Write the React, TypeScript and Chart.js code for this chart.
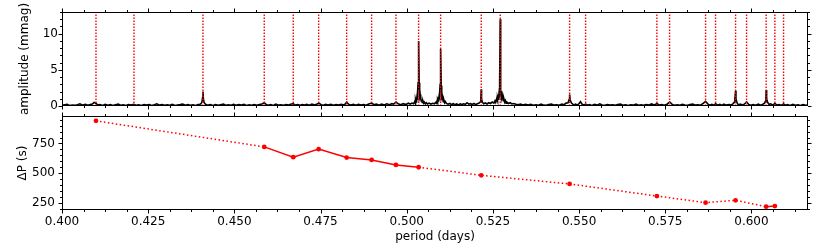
import React, { useEffect, useRef } from "react";
import { Chart, registerables } from "chart.js";
Chart.register(...registerables);

// ---- data ----
const modePeriods = [
  0.40986, 0.42088, 0.44089, 0.45867, 0.46708, 0.47445, 0.48257, 0.48982,
  0.49687, 0.50345, 0.50983, 0.52161, 0.52712, 0.54725, 0.55189, 0.57256,
  0.57625, 0.58669, 0.58959, 0.59539, 0.59858, 0.60426, 0.60679, 0.60931,
];

const dpPeriods = [
  0.40986, 0.45867, 0.46708, 0.47445, 0.48257, 0.48982, 0.49687, 0.50345,
  0.52161, 0.54725, 0.57256, 0.58669, 0.59539, 0.60426, 0.60679,
];
const dpValues = [941, 721, 634, 702, 631, 611, 569, 549, 481, 408, 306, 250, 270, 216, 221];
// style of the segment that starts at each point
const dpSegmentStyles = [
  "dotted", "solid", "solid", "solid", "solid", "solid", "solid",
  "dotted", "dotted", "dotted", "dotted", "dotted", "dotted", "solid",
];

const periodTicks = [0.4, 0.425, 0.45, 0.475, 0.5, 0.525, 0.55, 0.575, 0.6];
const ampTicks = [0, 5, 10];
const dpTicks = [250, 500, 750];

const spectrum: [number, number][] = [
  [0.4000,0.10],[0.4008,0.18],[0.4015,0.22],[0.4022,0.07],[0.4030,0.14],[0.4038,0.09],[0.4045,0.18],[0.4052,0.30],[0.4060,0.12],[0.4068,0.22],[0.4075,0.10],[0.4082,0.20],[0.4088,0.28],[0.4093,0.50],[0.4099,0.35],[0.4104,0.12],[0.4110,0.20],[0.4118,0.08],[0.4125,0.22],[0.4133,0.11],[0.4140,0.19],[0.4148,0.07],[0.4155,0.18],[0.4163,0.26],[0.4170,0.10],[0.4178,0.17],[0.4185,0.08],[0.4193,0.20],[0.4200,0.14],[0.4208,0.24],[0.4215,0.09],[0.4223,0.16],[0.4230,0.08],[0.4238,0.21],[0.4245,0.12],[0.4253,0.19],[0.4260,0.07],[0.4268,0.18],[0.4275,0.30],[0.4283,0.12],[0.4290,0.20],[0.4298,0.09],[0.4305,0.17],[0.4313,0.10],[0.4320,0.22],[0.4328,0.08],[0.4335,0.15],[0.4343,0.20],[0.4350,0.28],[0.4358,0.11],[0.4365,0.19],[0.4373,0.10],[0.4380,0.16],[0.4388,0.08],[0.4395,0.22],[0.4400,0.25],
  [0.4403,0.30],[0.4406,0.55],[0.4408,1.20],[0.4409,2.00],[0.4410,1.10],[0.4412,0.50],[0.4416,0.25],
  [0.4422,0.10],[0.4430,0.19],[0.4438,0.08],[0.4445,0.20],[0.4453,0.09],[0.4460,0.17],[0.4468,0.26],[0.4475,0.11],[0.4483,0.18],[0.4490,0.09],[0.4498,0.24],[0.4505,0.10],[0.4513,0.20],[0.4520,0.13],[0.4528,0.22],[0.4535,0.08],[0.4543,0.17],[0.4550,0.09],[0.4558,0.20],[0.4565,0.11],[0.4573,0.20],[0.4580,0.28],[0.4587,0.45],[0.4592,0.22],[0.4598,0.10],[0.4605,0.19],[0.4613,0.08],[0.4620,0.25],[0.4628,0.12],[0.4635,0.18],[0.4643,0.09],[0.4650,0.20],[0.4658,0.14],[0.4665,0.28],[0.4671,0.30],[0.4677,0.12],[0.4684,0.21],[0.4690,0.10],[0.4697,0.20],[0.4704,0.13],[0.4710,0.24],[0.4717,0.11],[0.4725,0.25],[0.4733,0.15],[0.4740,0.28],[0.4745,0.40],[0.4752,0.18],[0.4758,0.10],[0.4765,0.22],[0.4772,0.12],[0.4780,0.24],[0.4787,0.09],[0.4795,0.20],[0.4802,0.12],[0.4810,0.22],[0.4817,0.14],[0.4822,0.30],[0.4826,0.55],[0.4831,0.25],[0.4838,0.12],[0.4845,0.22],[0.4852,0.10],[0.4860,0.24],[0.4867,0.13],[0.4875,0.20],[0.4882,0.11],[0.4890,0.28],[0.4898,0.40],[0.4905,0.18],[0.4912,0.26],[0.4920,0.12],[0.4927,0.25],[0.4935,0.14],[0.4942,0.30],[0.4950,0.18],[0.4957,0.32],[0.4962,0.25],[0.4969,0.55],[0.4975,0.30],[0.4982,0.18],[0.4990,0.32],[0.4997,0.20],[0.5005,0.38],[0.5010,0.25],[0.5015,0.40],[0.5020,0.30],
  [0.5022,0.45],[0.5024,0.70],[0.5025,0.40],[0.5026,0.85],[0.5027,0.55],[0.5028,1.10],[0.5029,0.80],[0.5030,1.40],[0.5031,1.20],[0.5032,2.00],[0.5033,3.20],[0.50345,9.00],[0.5036,3.20],[0.5037,1.90],[0.5038,1.30],[0.5039,1.60],[0.5040,0.90],[0.5041,1.10],[0.5042,0.70],[0.5044,0.90],[0.5045,0.50],[0.5047,0.70],[0.5049,0.40],[0.5051,0.55],[0.5054,0.30],[0.5057,0.45],[0.5060,0.28],[0.5065,0.40],[0.5070,0.25],[0.5075,0.38],[0.5080,0.30],[0.5084,0.50],[0.5086,0.40],[0.5088,0.70],
  [0.5089,0.50],[0.5090,0.90],[0.5091,0.70],[0.5092,1.20],[0.5093,0.90],[0.5094,1.40],[0.5095,1.20],[0.5096,1.90],[0.5097,3.00],[0.50983,7.90],[0.5100,2.80],[0.5101,1.70],[0.5102,1.20],[0.5103,1.40],[0.5104,0.80],[0.5105,1.00],[0.5106,0.60],[0.5108,0.80],[0.5110,0.45],[0.5112,0.60],[0.5115,0.35],[0.5120,0.25],[0.5125,0.35],[0.5130,0.20],[0.5135,0.32],[0.5140,0.18],[0.5145,0.28],[0.5150,0.15],[0.5155,0.30],[0.5160,0.20],[0.5165,0.30],[0.5170,0.22],[0.5175,0.45],[0.5180,0.25],[0.5185,0.32],[0.5190,0.22],[0.5195,0.35],[0.5200,0.20],[0.5205,0.30],[0.5210,0.40],
  [0.5213,0.55],[0.5215,1.00],[0.52161,2.30],[0.5217,1.00],[0.5219,0.55],[0.5223,0.30],[0.5228,0.42],[0.5233,0.28],[0.5238,0.45],[0.5243,0.35],[0.5248,0.55],[0.5253,0.40],[0.5256,0.70],[0.5258,0.50],[0.5260,0.85],[0.5261,0.60],[0.5262,1.00],
  [0.5263,0.75],[0.5264,1.20],[0.5265,0.95],[0.5266,1.50],[0.5267,1.20],[0.5268,1.90],[0.5269,1.60],[0.5270,3.20],[0.52712,12.00],[0.5272,3.50],[0.5273,2.20],[0.5274,1.70],[0.5275,2.00],[0.5276,1.20],[0.5277,1.50],[0.5278,0.90],[0.5279,1.20],[0.5280,0.75],[0.5282,0.95],[0.5284,0.55],[0.5286,0.75],[0.5288,0.40],[0.5290,0.55],[0.5295,0.35],[0.5300,0.45],[0.5305,0.28],[0.5310,0.35],[0.5317,0.25],[0.5323,0.18],[0.5330,0.28],[0.5337,0.14],[0.5345,0.22],[0.5352,0.12],[0.5360,0.22],[0.5367,0.10],[0.5375,0.18],[0.5382,0.09],[0.5390,0.25],[0.5397,0.12],[0.5405,0.10],[0.5412,0.20],[0.5420,0.28],[0.5427,0.12],[0.5435,0.18],[0.5442,0.10],[0.5450,0.25],[0.5457,0.18],[0.5462,0.40],
  [0.5468,0.45],[0.5471,0.90],[0.54725,1.60],[0.5474,0.80],[0.5478,0.40],[0.5484,0.15],[0.5490,0.25],[0.5495,0.12],[0.5500,0.35],[0.5504,0.60],[0.5508,0.30],[0.5513,0.12],[0.5519,0.25],[0.5525,0.10],[0.5530,0.18],[0.5537,0.08],[0.5545,0.22],[0.5552,0.12],[0.5560,0.30],[0.5567,0.14],[0.5575,0.10],[0.5582,0.20],[0.5590,0.12],[0.5597,0.18],[0.5605,0.09],[0.5612,0.20],[0.5620,0.26],[0.5627,0.11],[0.5635,0.17],[0.5642,0.08],[0.5650,0.18],[0.5657,0.12],[0.5665,0.25],[0.5672,0.10],[0.5680,0.18],[0.5687,0.09],[0.5695,0.20],[0.5702,0.12],[0.5710,0.28],[0.5718,0.15],[0.5726,0.32],[0.5733,0.12],[0.5740,0.20],[0.5747,0.10],[0.5755,0.25],[0.5763,0.55],[0.5770,0.22],[0.5777,0.10],[0.5785,0.18],[0.5792,0.09],[0.5800,0.22],[0.5807,0.13],[0.5815,0.10],[0.5822,0.20],[0.5830,0.25],[0.5837,0.12],[0.5845,0.18],[0.5852,0.10],[0.5860,0.35],[0.5867,0.65],[0.5873,0.30],[0.5879,0.12],[0.5885,0.22],[0.5891,0.10],[0.5896,0.32],[0.5902,0.12],[0.5908,0.22],[0.5914,0.09],[0.5920,0.25],[0.5927,0.12],[0.5935,0.20],[0.5941,0.12],[0.5946,0.30],
  [0.5950,0.50],[0.5952,1.00],[0.59539,2.10],[0.5955,1.00],[0.5958,0.45],[0.5962,0.15],[0.5968,0.25],[0.5975,0.12],[0.5980,0.28],[0.5986,0.55],[0.5992,0.22],[0.5998,0.10],[0.6005,0.20],[0.6012,0.09],[0.6020,0.25],[0.6026,0.12],[0.6032,0.22],[0.6038,0.40],
  [0.6040,0.60],[0.6042,1.10],[0.60426,2.20],[0.6044,1.00],[0.6047,0.50],[0.6051,0.20],[0.6056,0.30],[0.6062,0.12],[0.6068,0.35],[0.6074,0.12],[0.6080,0.20],[0.6086,0.09],[0.6093,0.28],[0.6099,0.10],[0.6105,0.18],[0.6112,0.08],[0.6120,0.22],[0.6127,0.10],[0.6135,0.17],[0.6142,0.08],[0.6150,0.20],[0.6157,0.10],[0.6165,0.14],
];

const X_MIN = 0.4;
const X_MAX = 0.6164;
const AMP_MAX = 13;
const DP_MIN = 188;
const DP_MAX = 982;

const FONT = { family: "DejaVu Sans", size: 12 };

const setTicks = (values: number[]) => (s: any) => {
  s.ticks = values.map((v) => ({ value: v }));
};
const fixHeight = (h: number) => (s: any) => {
  s.height = h;
  s.paddingLeft = 0;
  s.paddingRight = 0;
};
const fixWidth = (w: number) => (s: any) => {
  s.width = w;
  s.paddingTop = 0;
  s.paddingBottom = 0;
};

// draws the axes frame and outward ticks (major + minor) on all four sides
const frameTicks = {
  id: "frameTicks",
  afterDatasetsDraw(chart: any, _args: any, opts: any) {
    const { ctx, chartArea } = chart;
    const { left, right, top, bottom } = chartArea;
    const xs = chart.scales.x;
    const ys = chart.scales.y;
    ctx.save();
    ctx.strokeStyle = "#000";
    ctx.lineWidth = 1;
    ctx.strokeRect(left + 0.5, top + 0.5, right - left - 1, bottom - top - 1);
    const line = (x1: number, y1: number, x2: number, y2: number) => {
      ctx.beginPath();
      ctx.moveTo(x1, y1);
      ctx.lineTo(x2, y2);
      ctx.stroke();
    };
    const majLen = 3.5, minLen = 2;
    const ticksFor = (scale: any, step: number, sub: number) => {
      const out: { v: number; major: boolean }[] = [];
      const ms = step / sub;
      const start = Math.ceil(scale.min / ms - 1e-6);
      const end = Math.floor(scale.max / ms + 1e-6);
      for (let k = start; k <= end; k++) {
        out.push({ v: k * ms, major: k % sub === 0 });
      }
      return out;
    };
    for (const t of ticksFor(xs, opts.xStep, opts.xSub)) {
      const px = Math.round(xs.getPixelForValue(t.v)) + 0.5;
      const len = t.major ? majLen : minLen;
      line(px, bottom, px, bottom + len);
      line(px, top, px, top - len);
    }
    for (const t of ticksFor(ys, opts.yStep, opts.ySub)) {
      const py = Math.round(ys.getPixelForValue(t.v)) + 0.5;
      const len = t.major ? majLen : minLen;
      line(left, py, left - len, py);
      line(right, py, right + len, py);
    }
    ctx.restore();
  },
};

function TopChart() {
  const ref = useRef<HTMLCanvasElement>(null);
  useEffect(() => {
    const modeLine: any[] = [];
    modePeriods.forEach((p) => {
      modeLine.push({ x: p, y: 0 }, { x: p, y: AMP_MAX }, { x: p, y: null });
    });
    const chart = new Chart(ref.current!, {
      type: "line",
      data: {
        datasets: [
          {
            data: modeLine,
            borderColor: "#ff0000",
            borderWidth: 1.4,
            borderDash: [1.4, 1.6],
            pointRadius: 0,
            spanGaps: false,
            order: 0,
          },
          {
            data: spectrum.map(([x, y]) => ({ x, y })),
            borderColor: "#000",
            borderWidth: 1.6,
            pointRadius: 0,
            order: 1,
          },
        ],
      },
      options: {
        responsive: false,
        animation: false,
        events: [],
        layout: { padding: { left: 0, right: 22, top: 12, bottom: 10 } },
        plugins: {
          legend: { display: false },
          tooltip: { enabled: false },
          frameTicks: { xStep: 0.025, xSub: 4, yStep: 5, ySub: 5 },
        } as any,
        scales: {
          x: {
            type: "linear",
            min: X_MIN,
            max: X_MAX,
            grid: { display: false, drawTicks: false },
            border: { display: false },
            ticks: { display: false },
            afterBuildTicks: setTicks(periodTicks),
            afterFit: fixHeight(4),
          },
          y: {
            type: "linear",
            min: 0,
            max: AMP_MAX,
            grid: { display: false, drawTicks: false },
            border: { display: false },
            afterBuildTicks: setTicks(ampTicks),
            ticks: {
              font: FONT,
              color: "#000",
              padding: 4,
            },
            title: {
              display: true,
              text: "amplitude (mmag)",
              font: FONT,
              color: "#000",
              padding: { top: 17.8, bottom: 0 },
            },
            afterFit: fixWidth(62),
          },
        },
      } as any,
      plugins: [frameTicks],
    });
    return () => chart.destroy();
  }, []);
  return (
    <canvas
      ref={ref}
      width={830}
      height={120}
      style={{ display: "block", position: "absolute", left: 0, top: 0 }}
    />
  );
}

function BottomChart() {
  const ref = useRef<HTMLCanvasElement>(null);
  useEffect(() => {
    const chart = new Chart(ref.current!, {
      type: "line",
      data: {
        datasets: [
          {
            data: dpPeriods.map((x, i) => ({ x, y: dpValues[i] })),
            borderColor: "#ff0000",
            borderWidth: 1.5,
            pointRadius: 2.4,
            pointBackgroundColor: "#ff0000",
            pointBorderWidth: 0,
            segment: {
              borderDash: (ctx: any) =>
                dpSegmentStyles[ctx.p0DataIndex] === "dotted" ? [1.5, 2.5] : [],
            },
          },
        ],
      },
      options: {
        responsive: false,
        animation: false,
        events: [],
        layout: { padding: { left: 0, right: 22, top: 6, bottom: 0 } },
        plugins: {
          legend: { display: false },
          tooltip: { enabled: false },
          frameTicks: { xStep: 0.025, xSub: 4, yStep: 250, ySub: 5 },
        } as any,
        scales: {
          x: {
            type: "linear",
            min: X_MIN,
            max: X_MAX,
            grid: { display: false, drawTicks: false },
            border: { display: false },
            afterBuildTicks: setTicks(periodTicks),
            ticks: {
              font: FONT,
              color: "#000",
              padding: 4.5,
              maxRotation: 0,
              autoSkip: false,
              callback: (v: any) => Number(v).toFixed(3),
            },
            title: {
              display: true,
              text: "period (days)",
              font: FONT,
              color: "#000",
              padding: { top: 0, bottom: 4.1 },
            },
            afterFit: fixHeight(38),
          },
          y: {
            type: "linear",
            min: DP_MIN,
            max: DP_MAX,
            grid: { display: false, drawTicks: false },
            border: { display: false },
            afterBuildTicks: setTicks(dpTicks),
            ticks: {
              font: FONT,
              color: "#000",
              padding: 7,
            },
            title: {
              display: true,
              text: "ΔP (s)",
              font: FONT,
              color: "#000",
              padding: { top: 15.8, bottom: 0 },
            },
            afterFit: fixWidth(62),
          },
        },
      } as any,
      plugins: [frameTicks],
    });
    return () => chart.destroy();
  }, []);
  return (
    <canvas
      ref={ref}
      width={830}
      height={138}
      style={{ display: "block", position: "absolute", left: 0, top: 110 }}
    />
  );
}

export default function App() {
  return (
    <div
      style={{
        position: "fixed",
        left: 0,
        top: 0,
        width: 830,
        height: 248,
        background: "#fff",
      }}
    >
      <TopChart />
      <BottomChart />
    </div>
  );
}
